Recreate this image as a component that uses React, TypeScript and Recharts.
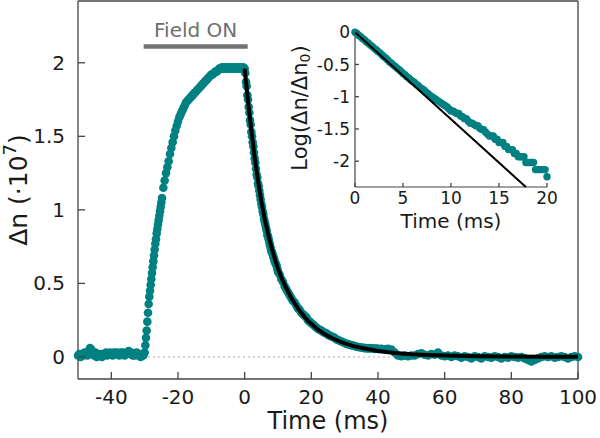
import { ComposedChart, Scatter, XAxis, YAxis, ReferenceLine, Label } from "recharts";

const TEAL = "#008080";
const AXIS = "#444444";
const TEXT = "#1a1a1a";
const FONT = "'DejaVu Sans', sans-serif";

// main trace (Δn, ·1e7), sampled on regular time grids: start (ms), step (ms), values
const baseStart = -50;
const baseStep = 0.4;
const baseVals = [
  0.01, 0.02, 0.0, 0.02, 0.01, 0.03, 0.02, 0.01, 0.04, 0.06,
  0.05, 0.02, 0.01, 0.03, 0.0, 0.02, 0.01, 0.02, 0.0, 0.01,
  0.02, 0.03, 0.01, 0.02, 0.03, 0.02, 0.01, 0.03, 0.02, 0.03,
  0.02, 0.01, 0.03, 0.02, 0.03, 0.01, 0.02, 0.03, 0.04, 0.02,
  0.03, 0.01, 0.02, 0.01, 0.03, 0.02, 0.01, 0.0, 0.02, 0.01,
];

const riseStart = -30;
const riseStep = 0.2;
const riseVals = [
  0.03, 0.08, 0.13, 0.18, 0.24, 0.3, 0.36, 0.41, 0.45, 0.49,
  0.53, 0.57, 0.61, 0.65, 0.69, 0.73, 0.77, 0.8, 0.84, 0.87,
  0.9, 0.93, 0.96, 0.99, 1.02, 1.05,
];

const topStart = -24.8;
const topStep = 0.4;
const topVals = [
  1.08, 1.15, 1.2, 1.25, 1.29, 1.33, 1.38, 1.42, 1.46, 1.5,
  1.54, 1.57, 1.6, 1.63, 1.65, 1.67, 1.69, 1.71, 1.73, 1.74,
  1.75, 1.76, 1.77, 1.78, 1.79, 1.8, 1.81, 1.82, 1.83, 1.84,
  1.85, 1.86, 1.87, 1.88, 1.89, 1.9, 1.91, 1.92, 1.92, 1.93,
  1.94, 1.94, 1.95, 1.96, 1.96, 1.97, 1.96, 1.97, 1.96, 1.97,
  1.96, 1.97, 1.96, 1.97, 1.96, 1.97, 1.96, 1.97, 1.96, 1.97,
  1.96, 1.97, 1.96,
];

const decayStart = 0.2;
const decayStep = 0.2;
const decayVals = [
  1.93, 1.87, 1.84, 1.78, 1.75, 1.7, 1.66, 1.61, 1.58, 1.53,
  1.5, 1.46, 1.43, 1.39, 1.35, 1.32, 1.28, 1.24, 1.22, 1.18,
  1.16, 1.13, 1.1, 1.07, 1.04, 1.02, 0.99, 0.97, 0.94, 0.92,
  0.9, 0.88, 0.86, 0.83, 0.82, 0.8, 0.78, 0.76, 0.74, 0.72,
  0.71, 0.7, 0.68, 0.67, 0.65, 0.64, 0.63, 0.62, 0.6, 0.58,
];

const tailStart = 10.5;
const tailStep = 0.5;
const tailVals = [
  0.56, 0.53, 0.51, 0.48, 0.46, 0.44, 0.42, 0.4, 0.38, 0.37,
  0.35, 0.33, 0.32, 0.3, 0.29, 0.28, 0.27, 0.25, 0.24, 0.23,
  0.22, 0.21, 0.2, 0.19, 0.185, 0.18, 0.17, 0.165, 0.16, 0.15,
  0.145, 0.14, 0.135, 0.13, 0.12, 0.115, 0.11, 0.105, 0.1, 0.095,
  0.09, 0.087, 0.083, 0.08, 0.077, 0.074, 0.07, 0.068, 0.066, 0.064,
  0.062, 0.06, 0.06, 0.058, 0.06, 0.057, 0.058, 0.055, 0.057, 0.055,
];

const farStart = 41;
const farStep = 1;
const farVals = [
  0.055, 0.052, 0.055, 0.05, 0.03, 0.01, 0.005, 0.01, 0.005, 0.01,
  0.01, 0.02, 0.025, 0.015, 0.01, 0.02, 0.015, 0.03, 0.01, 0.005,
  0.01, 0.0, 0.01, 0.005, -0.005, 0.005, 0.0, -0.01, 0.005, 0.0,
  -0.01, 0.005, 0.0, -0.005, 0.005, 0.0, -0.01, 0.0, -0.005, 0.005,
  0.0, -0.005, 0.0, -0.01, -0.02, -0.03, -0.02, -0.01, 0.0, 0.005,
  0.0, 0.005, -0.005, 0.0, 0.005, 0.0, -0.01, 0.0, 0.005, 0.0,
];

// fitted decay curve (black)
const fitT = [
  0, 0.5, 1, 1.5, 2, 2.5, 3, 3.5, 4, 4.5, 5, 5.5, 6, 6.5, 7, 7.5, 8, 8.5, 9, 9.5, 10,
  11, 12, 13, 14, 15, 16, 17, 18, 19, 20, 22, 24, 26, 28, 30, 33, 36, 40, 45, 50, 55, 60, 70, 80, 90, 100,
];
const fitV = [
  1.96, 1.85, 1.74, 1.64, 1.54, 1.45, 1.36, 1.28, 1.2, 1.13, 1.06, 1.0, 0.94, 0.89, 0.84, 0.795, 0.75, 0.71, 0.67, 0.635, 0.6,
  0.54, 0.49, 0.445, 0.4, 0.365, 0.33, 0.3, 0.27, 0.245, 0.225, 0.185, 0.155, 0.13, 0.11, 0.092, 0.072, 0.057, 0.04, 0.027,
  0.018, 0.013, 0.009, 0.005, 0.003, 0.002, 0.001,
];

// inset: Log(Δn/Δn0) vs time, 0..20 ms every 0.2 ms
const insetStart = 0;
const insetStep = 0.2;
const insetVals = [
  0, -0.02, -0.05, -0.07, -0.1, -0.12, -0.15, -0.17, -0.2, -0.22, -0.25,
  -0.27, -0.3, -0.32, -0.35, -0.38, -0.4, -0.43, -0.46, -0.48, -0.51,
  -0.53, -0.56, -0.58, -0.61, -0.64, -0.66, -0.69, -0.71, -0.74, -0.76,
  -0.78, -0.81, -0.83, -0.86, -0.88, -0.9, -0.93, -0.95, -0.98, -1.0,
  -1.02, -1.04, -1.06, -1.08, -1.1, -1.12, -1.14, -1.16, -1.19, -1.22,
  -1.22, -1.24, -1.26, -1.26, -1.3, -1.31, -1.34, -1.34, -1.38, -1.41,
  -1.41, -1.43, -1.45, -1.45, -1.49, -1.51, -1.51, -1.55, -1.58, -1.61,
  -1.61, -1.61, -1.66, -1.66, -1.71, -1.71, -1.71, -1.77, -1.77, -1.82,
  -1.82, -1.82, -1.88, -1.88, -1.93, -1.93, -1.93, -1.93, -2.02, -2.02,
  -2.02, -2.02, -2.02, -2.13, -2.13, -2.13, -2.13, -2.13, -2.13, -2.24,
];
const insetFitT = [0, 17.8];
const insetFitL = [0, -2.4];

const xTicks = [-40, -20, 0, 20, 40, 60, 80, 100];
const yTicks = [0, 0.5, 1, 1.5, 2];
const insetXTicks = [0, 5, 10, 15, 20];
const insetYTicks = [0, -0.5, -1, -1.5, -2];

const toPoints = (start: number, step: number, vals: number[]) =>
  vals.map((v, i) => ({ t: +(start + i * step).toFixed(2), v }));

const mainPoints = [
  ...toPoints(baseStart, baseStep, baseVals),
  ...toPoints(riseStart, riseStep, riseVals),
  ...toPoints(topStart, topStep, topVals),
  ...toPoints(decayStart, decayStep, decayVals),
  ...toPoints(tailStart, tailStep, tailVals),
  ...toPoints(farStart, farStep, farVals),
];
const fitPoints = fitT.map((t, i) => ({ t, v: fitV[i] }));
const insetPoints = insetVals.map((L, i) => ({ t: +(insetStart + i * insetStep).toFixed(2), L }));
const insetFit = insetFitT.map((t, i) => ({ t, L: insetFitL[i] }));

// ticks pointing into the plot
const xTick = (axisY: number, len: number, size: number) => (p: any) => (
  <g>
    <line x1={p.x} x2={p.x} y1={axisY} y2={axisY - len} stroke={AXIS} strokeWidth={1.3} />
    <text x={p.x} y={p.y} dy="0.71em" textAnchor="middle" fontSize={size} fill={TEXT}>
      {p.payload.value}
    </text>
  </g>
);
const yTick = (axisX: number, len: number, size: number) => (p: any) => (
  <g>
    <line x1={axisX} x2={axisX + len} y1={p.y} y2={p.y} stroke={AXIS} strokeWidth={1.3} />
    <text x={p.x} y={p.y} dy="0.355em" textAnchor="end" fontSize={size} fill={TEXT}>
      {p.payload.value}
    </text>
  </g>
);

const mainDot = (p: any) => <circle cx={p.cx} cy={p.cy} r={4.3} fill={TEAL} />;
const insetDot = (p: any) => <circle cx={p.cx} cy={p.cy} r={3.7} fill={TEAL} />;
const noDot = () => <g />;

export default function App() {
  return (
    <div style={{ position: "absolute", left: 0, top: 0, width: 600, height: 438, background: "#fff", fontFamily: FONT }}>
      <ComposedChart width={600} height={438} margin={{ top: 1, right: 22, bottom: 0, left: 0 }}>
        <XAxis
          type="number"
          dataKey="t"
          domain={[-50, 100]}
          ticks={xTicks}
          interval={0}
          height={59}
          tickSize={0}
          tickMargin={11}
          axisLine={{ stroke: AXIS, strokeWidth: 1.3 }}
          tick={xTick(379, 7, 20)}
        >
          <Label value="Time (ms)" position="insideBottom" offset={9} fontSize={24} fill={TEXT} />
        </XAxis>
        <YAxis
          type="number"
          dataKey="v"
          domain={[-0.15, 2.42]}
          ticks={yTicks}
          interval={0}
          width={78}
          tickSize={0}
          tickMargin={13}
          axisLine={{ stroke: AXIS, strokeWidth: 1.3 }}
          tick={yTick(78, 7, 20)}
        >
          <Label
            content={() => (
              <text transform="translate(18,190) rotate(-90)" textAnchor="middle" dominantBaseline="central" fontSize={25} fill={TEXT}>
                Δn (·10<tspan dy={-9} fontSize={18}>7</tspan>
                <tspan dy={9}>)</tspan>
              </text>
            )}
          />
        </YAxis>
        <ReferenceLine y={0} stroke="#aaaaaa" strokeDasharray="2 3" strokeWidth={1} />
        <ReferenceLine y={2.42} stroke={AXIS} strokeWidth={1.3} />
        <ReferenceLine x={100} stroke={AXIS} strokeWidth={1.3} />
        <ReferenceLine
          segment={[{ x: -30.3, y: 2.11 }, { x: 0.9, y: 2.11 }]}
          stroke="#737373"
          strokeWidth={4.5}
          label={{ value: "Field ON", position: "top", offset: 10, fontSize: 20, fill: "#6e6e6e" }}
        />
        <Scatter data={mainPoints} fill={TEAL} shape={mainDot} isAnimationActive={false} />
        <Scatter
          data={fitPoints}
          shape={noDot}
          line={{ stroke: "#000", strokeWidth: 4, fill: "none" }}
          lineType="joint"
          isAnimationActive={false}
        />
      </ComposedChart>

      <div style={{ position: "absolute", left: 280, top: 0 }}>
        <ComposedChart width={300} height={232} margin={{ top: 29, right: 33, bottom: 0, left: 0 }}>
          <XAxis
            type="number"
            dataKey="t"
            domain={[0, 20]}
            ticks={insetXTicks}
            interval={0}
            height={45}
            tickSize={0}
            tickMargin={5}
            axisLine={{ stroke: AXIS, strokeWidth: 1.2 }}
            tick={xTick(187, 4, 17)}
          >
            <Label value="Time (ms)" position="insideBottom" offset={4} fontSize={20} fill={TEXT} />
          </XAxis>
          <YAxis
            type="number"
            dataKey="L"
            domain={[-2.4, 0.05]}
            ticks={insetYTicks}
            interval={0}
            width={75}
            tickSize={0}
            tickMargin={5}
            axisLine={{ stroke: AXIS, strokeWidth: 1.2 }}
            tick={yTick(75, 4, 17)}
          >
            <Label
              content={() => (
                <text transform="translate(20,108) rotate(-90)" textAnchor="middle" dominantBaseline="central" fontSize={21} fill={TEXT}>
                  Log(Δn/Δn<tspan dy={5} fontSize={14}>0</tspan>
                  <tspan dy={-5}>)</tspan>
                </text>
              )}
            />
          </YAxis>
          <Scatter data={insetPoints} fill={TEAL} shape={insetDot} isAnimationActive={false} />
          <Scatter
            data={insetFit}
            shape={noDot}
            line={{ stroke: "#000", strokeWidth: 2, fill: "none" }}
            lineType="joint"
            isAnimationActive={false}
          />
        </ComposedChart>
      </div>
    </div>
  );
}
